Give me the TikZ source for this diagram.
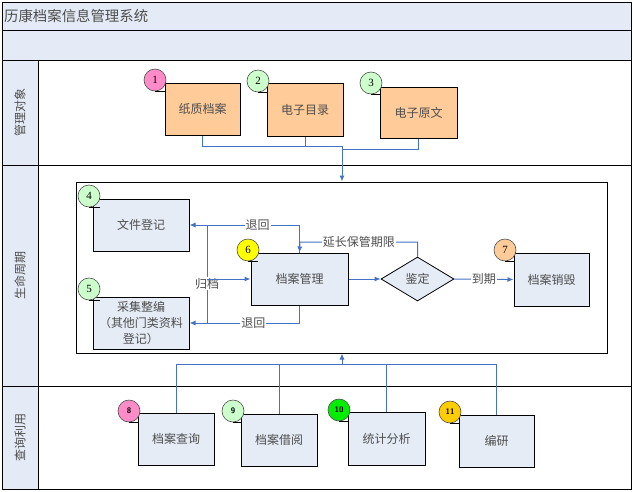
\documentclass[tikz,border=0pt]{standalone}
\usepackage{fontspec}
\setmainfont{Liberation Serif}
\newfontfamily\cjk{Noto Sans CJK SC}
\usetikzlibrary{shapes.geometric,arrows.meta}
\definecolor{hdr}{HTML}{E4EBF6}
\definecolor{boxblue}{HTML}{E5ECF6}
\definecolor{orangebox}{HTML}{FFCC99}
\definecolor{conn}{HTML}{4472C4}
\definecolor{txt}{HTML}{4D4D4D}
\definecolor{cpink}{HTML}{FF8CC8}
\definecolor{cgreen}{HTML}{CCFFCC}
\definecolor{cbright}{HTML}{00EE00}
\definecolor{cyellow}{HTML}{FFFF00}
\definecolor{cpeach}{HTML}{FFCC99}
\definecolor{cgold}{HTML}{FFCC00}
\tikzset{
  cjkfont/.style={font=\cjk\fontsize{12}{16}\selectfont, text=txt},
  box/.style={draw=black, line width=1pt, fill=boxblue, cjkfont, inner sep=0pt, align=center},
  obox/.style={box, fill=orangebox},
  dia/.style={diamond, draw=black, line width=0.8pt, fill=boxblue, cjkfont, inner sep=0pt},
  num/.style={circle, draw=black!70, line width=0.6pt, minimum size=22pt, inner sep=0pt, font=\fontsize{11}{11}\selectfont},
  snum/.style={num, font=\sffamily\bfseries\fontsize{8}{8}\selectfont},
  tick/.style={draw=black, line width=0.8pt},
  wire/.style={draw=conn, line width=1pt},
  arr/.style={wire, -{Latex[length=6pt,width=5pt]}},
  lab/.style={fill=white, cjkfont, inner sep=1pt},
  lane/.style={cjkfont, rotate=90},
}
\begin{document}
\begin{tikzpicture}[x=1pt,y=-1pt]
\useasboundingbox (0,0) rectangle (633,491);
% header rows and lane column
\fill[hdr] (2,2) rectangle (631,60);
\fill[hdr] (2,60) rectangle (38,489);
\draw[line width=1pt] (2,2) rectangle (631,489);
\draw[line width=1pt] (2,30) -- (631,30);
\draw[line width=1pt] (2,60) -- (631,60);
\draw[line width=1pt] (2,165) -- (631,165);
\draw[line width=1pt] (2,386) -- (631,386);
\draw[line width=1pt] (38,60) -- (38,489);
\node[anchor=west, font=\cjk\fontsize{14.4}{16}\selectfont, text=txt, inner sep=0pt] (title) at (4,16) {历康档案信息管理系统};
\node[lane] (l1) at (20,112) {管理对象};
\node[lane] (l2) at (20,275) {生命周期};
\node[lane] (l3) at (20,437) {查询利用};

% lane 1
\node[obox, minimum width=75pt, minimum height=52pt] (paper) at (202.5,109) {纸质档案};
\node[obox, minimum width=76pt, minimum height=53pt] (edir) at (305,109.5) {电子目录};
\node[obox, minimum width=77pt, minimum height=51pt] (eorig) at (418.5,112.5) {电子原文};
\node[num, fill=cpink] (c1) at (155,80) {1};
\node[num, fill=cgreen] (c2) at (258,81) {2};
\node[num, fill=cgreen] (c3) at (371,83) {3};
\draw[tick] (c1.south) -- ++(10,0);
\draw[tick] (c2.south) -- ++(9,0);
\draw[tick] (c3.south) -- ++(9,0);

% lifecycle frame
\node[draw=black, line width=1pt, minimum width=531pt, minimum height=171pt, inner sep=0pt] (life) at (341.5,267.5) {};
\coordinate (m1) at (342,146);
\coordinate (m1b) at (342,149);
\draw[wire] (paper.south) |- (m1);
\draw[wire] (edir.south) |- (m1);
\draw[wire] (eorig.south) |- (m1b);
\draw[arr] (m1) -- (m1 |- life.north);

% lane 2
\node[box, minimum width=96pt, minimum height=52pt] (reg) at (141,225) {文件登记};
\node[box, minimum width=96pt, minimum height=52pt] (col) at (141,323) {采集整编\\（其他门类资料\\登记）};
\node[box, minimum width=97pt, minimum height=52pt] (mgmt) at (299.5,279) {档案管理};
\node[dia, minimum width=73pt, minimum height=44pt] (apr) at (417.5,279) {鉴定};
\node[box, minimum width=75pt, minimum height=53pt] (destroy) at (551.5,279.5) {档案销毁};
\node[num, fill=cgreen] (c4) at (89,196) {4};
\node[num, fill=cgreen] (c5) at (89,289) {5};
\node[num, fill=cyellow] (c6) at (248,250) {6};
\node[num, fill=cpeach] (c7) at (505,250) {7};
\draw[tick] (c4.south) -- ++(11,0);
\draw[tick] (c5.south) -- ++(11,0);
\draw[tick] (c6.south) -- ++(10,0);
\draw[tick] (c7.south) -- ++(9,0);

\coordinate (g1) at (207,225);
\coordinate (g2) at (207,323);
\coordinate (g3) at (207,279);
\coordinate (e1) at (300,242);
\draw[wire] (g1) -- node[lab, pos=0.6] {归档} (g2);
\draw[arr] (g3) -- (mgmt.west);
\draw[arr] (mgmt.north) |- node[lab, pos=0.69] {退回} (reg.east);
\draw[arr] (apr.north) |- node[lab, pos=0.75] {延长保管期限} (e1) -- (mgmt.north);
\draw[arr] (mgmt.south) |- node[lab, pos=0.71] {退回} (col.east);
\draw[arr] (mgmt.east) -- (apr.west);
\draw[arr] (apr.east) -- node[lab] {到期} (destroy.west);

% lane 3
\node[box, minimum width=76pt, minimum height=52pt] (q1) at (176,439) {档案查询};
\node[box, minimum width=76pt, minimum height=52pt] (q2) at (279,440) {档案借阅};
\node[box, minimum width=77pt, minimum height=53pt] (q3) at (386.5,438.5) {统计分析};
\node[box, minimum width=75pt, minimum height=52pt] (q4) at (496.5,441) {编研};
\node[snum, fill=cpink] (c8) at (129,411) {8};
\node[snum, fill=cgreen] (c9) at (233,411) {9};
\node[snum, fill=cbright] (c10) at (339,410) {10};
\node[snum, fill=cgold] (c11) at (450,412) {11};
\draw[tick] (c8.south) -- ++(9,0);
\draw[tick] (c9.south) -- ++(8,0);
\draw[tick] (c10.south) -- ++(9,0);
\draw[tick] (c11.south) -- ++(9,0);
\coordinate (m3) at (342,364);
\draw[wire] (q1.north) |- (m3);
\draw[wire] (q2.north) |- (m3);
\draw[wire] (q3.north) |- (m3);
\draw[wire] (q4.north) |- (m3);
\draw[arr] (m3) -- (m3 |- life.south);
\end{tikzpicture}
\end{document}
